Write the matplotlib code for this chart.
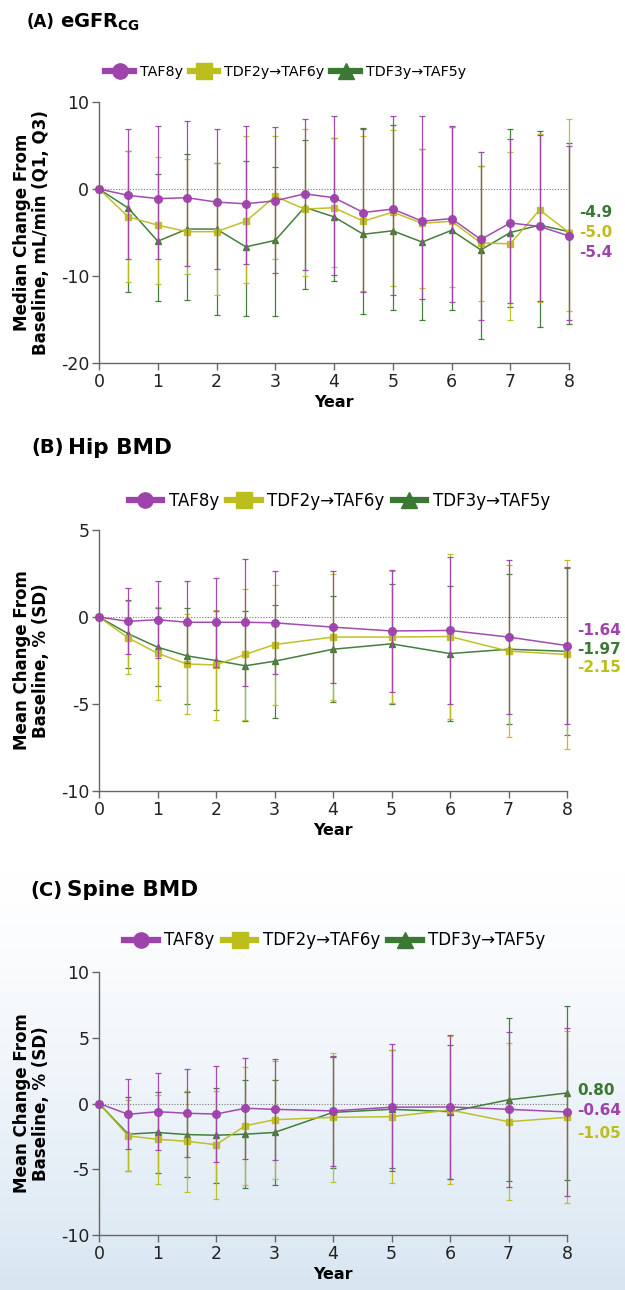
import matplotlib
matplotlib.use("Agg")
import matplotlib.pyplot as plt
from matplotlib.lines import Line2D
import numpy as np

plt.rcParams['font.family'] = ['DejaVu Sans']
plt.rcParams['axes.unicode_minus'] = False

# ---- data ----
groups = ["TAF8y", "TDF2y\u2192TAF6y", "TDF3y\u2192TAF5y"]

# (A) eGFR CG, median with Q1/Q3
years_a = [0, 0.5, 1, 1.5, 2, 2.5, 3, 3.5, 4, 4.5, 5, 5.5, 6, 6.5, 7, 7.5, 8]
egfr_taf8 = [0, -0.73, -1.1, -1.0, -1.5, -1.7, -1.35, -0.55, -1.0, -2.7, -2.3, -3.7, -3.4, -5.8, -3.9, -4.3, -5.4]
egfr_taf8_q1 = [0, -8.0, -8.0, -8.85, -9.15, -8.65, -9.7, -9.35, -9.9, -11.8, -12.2, -12.6, -13.0, -15.0, -13.1, -12.9, -15.1]
egfr_taf8_q3 = [0, 6.9, 7.3, 7.8, 6.9, 7.2, 7.1, 8.0, 8.35, 6.9, 8.35, 8.35, 7.2, 4.2, 5.8, 6.2, 5.0]
egfr_tdf2 = [0, -3.2, -4.15, -4.9, -4.9, -3.7, -0.85, -2.3, -2.15, -3.7, -2.65, -3.95, -3.7, -6.2, -6.3, -2.4, -5.0]
egfr_tdf2_q1 = [0, -10.7, -10.9, -9.8, -12.2, -10.8, -8.0, -10.0, -9.0, -11.7, -11.1, -11.4, -11.3, -12.9, -15.0, -13.0, -14.0]
egfr_tdf2_q3 = [0, 4.4, 3.65, 3.5, 3.0, 6.1, 6.1, 6.9, 5.9, 6.1, 6.8, 4.6, 7.1, 2.65, 4.3, 6.3, 8.1]
egfr_tdf3 = [0, -2.2, -6.0, -4.6, -4.6, -6.65, -5.9, -2.1, -3.2, -5.2, -4.8, -6.1, -4.75, -7.0, -5.0, -4.15, -4.9]
egfr_tdf3_q1 = [0, -11.8, -12.9, -12.7, -14.5, -14.65, -14.65, -11.45, -10.6, -14.4, -13.9, -15.1, -13.85, -17.2, -13.6, -15.9, -15.5]
egfr_tdf3_q3 = [0, 4.4, 1.7, 4.0, 2.95, 3.2, 2.5, 5.6, 5.9, 7.0, 7.4, 4.6, 7.1, 2.6, 6.9, 6.7, 5.3]
egfr_end = ["-4.9", "-5.0", "-5.4"]

# (B) hip BMD and (C) spine BMD, mean with SD
years_b = [0, 0.5, 1, 1.5, 2, 2.5, 3, 4, 5, 6, 7, 8]
hip_taf8 = [0, -0.25, -0.15, -0.3, -0.3, -0.3, -0.33, -0.58, -0.8, -0.77, -1.15, -1.64]
hip_taf8_sd = [0, 1.9, 2.2, 2.35, 2.55, 3.65, 2.95, 3.2, 3.5, 4.2, 4.45, 4.5]
hip_tdf2 = [0, -1.2, -2.08, -2.7, -2.75, -2.15, -1.58, -1.15, -1.15, -1.12, -1.96, -2.15]
hip_tdf2_sd = [0, 2.1, 2.67, 2.9, 3.15, 3.75, 3.45, 3.6, 3.8, 4.75, 4.95, 5.45]
hip_tdf3 = [0, -0.96, -1.73, -2.23, -2.5, -2.8, -2.54, -1.85, -1.54, -2.1, -1.85, -1.97]
hip_tdf3_sd = [0, 1.95, 2.25, 2.75, 2.85, 3.15, 3.25, 3.05, 3.45, 3.9, 4.3, 4.8]
hip_end = ["-1.64", "-1.97", "-2.15"]

spine_taf8 = [0, -0.82, -0.62, -0.74, -0.8, -0.36, -0.44, -0.56, -0.28, -0.26, -0.44, -0.64]
spine_taf8_sd = [0, 2.67, 2.95, 3.33, 3.67, 3.85, 3.85, 4.2, 4.84, 5.46, 5.9, 6.38]
spine_tdf2 = [0, -2.46, -2.72, -2.87, -3.13, -1.69, -1.23, -1.05, -1.0, -0.49, -1.38, -1.05]
spine_tdf2_sd = [0, 2.7, 3.4, 3.85, 4.1, 4.5, 4.5, 4.9, 5.05, 5.64, 5.95, 6.55]
spine_tdf3 = [0, -2.33, -2.2, -2.36, -2.41, -2.33, -2.2, -0.67, -0.44, -0.62, 0.28, 0.8]
spine_tdf3_sd = [0, 2.8, 3.05, 3.2, 3.6, 4.1, 4.0, 4.2, 4.5, 5.1, 6.2, 6.6]
spine_end = ["0.80", "-0.64", "-1.05"]

# ---- style ----
purple = "#9E42AC"
yellow = "#BCBE1E"
green = "#3B7834"
colors = [purple, yellow, green]
markers = ["o", "s", "^"]
msizes = [5.5, 4.5, 4.5]

fig = plt.figure(figsize=(6.25, 12.9), dpi=100)

# soft blue background fading in towards the bottom
bg = fig.add_axes([0, 0, 1, 0.33], zorder=-10)
grad = np.linspace(0, 1, 200).reshape(-1, 1)
rgb = np.ones((200, 1, 4))
rgb[..., 0] = 0.85
rgb[..., 1] = 0.905
rgb[..., 2] = 0.95
rgb[..., 3] = grad ** 1.3
bg.imshow(rgb, aspect="auto", extent=[0, 1, 0, 1], origin="upper")
bg.axis("off")


def style_axes(ax, ylim, yticks):
    ax.set_xlim(0, 8)
    ax.set_ylim(*ylim)
    ax.set_xticks(range(9))
    ax.set_yticks(yticks)
    for s in ["top", "right"]:
        ax.spines[s].set_visible(False)
    for s in ["left", "bottom"]:
        ax.spines[s].set_color("#666666")
        ax.spines[s].set_linewidth(1.0)
    ax.tick_params(colors="#666666", labelcolor="#222222", labelsize=12.5,
                   length=5, width=1.0, pad=2)
    ax.axhline(0, color="#777777", ls=(0, (1, 1.5)), lw=0.8, zorder=1)
    ax.set_xlabel("Year", fontsize=11.5, fontweight="bold", labelpad=3)
    ax.set_facecolor("none")


def draw_series(ax, x, series, lows, highs):
    # green first, purple last (on top)
    for i in [2, 1, 0]:
        y = np.array(series[i])
        err = [y - np.array(lows[i]), np.array(highs[i]) - y]
        ax.errorbar(x, y, yerr=err, color=colors[i], lw=1.1, elinewidth=0.9,
                    capsize=2.5, capthick=0.9, marker=markers[i], ms=msizes[i],
                    clip_on=False, zorder=3 + (2 - i), alpha=0.95)


def add_legend(ax, y, fs, cx):
    handles = [Line2D([], [], color=c, lw=4.5, marker=m, ms=11)
               for c, m in zip(colors, markers)]
    fig.legend(handles, groups, loc="center", bbox_to_anchor=(cx, y), ncol=3,
               frameon=False, fontsize=fs, handlelength=2.0, handletextpad=0.4,
               columnspacing=0.5)


def end_labels(ax, texts, ys, order):
    for t, yy, i in zip(texts, ys, order):
        ax.text(8.17, yy, t, color=colors[i], fontsize=11, fontweight="bold",
                va="center", ha="left", clip_on=False)


def set_ylabel(ax, text):
    ax.set_ylabel(text, fontsize=12, fontweight="bold", linespacing=1.05)
    ax.yaxis.set_label_coords(-0.105, 0.5)


# (A)
axA = fig.add_axes([0.1584, 0.7186, 0.752, 0.2023])
style_axes(axA, (-20, 10), [-20, -10, 0, 10])
draw_series(axA, years_a, [egfr_taf8, egfr_tdf2, egfr_tdf3],
            [egfr_taf8_q1, egfr_tdf2_q1, egfr_tdf3_q1],
            [egfr_taf8_q3, egfr_tdf2_q3, egfr_tdf3_q3])
set_ylabel(axA, "Median Change From\nBaseline, mL/min (Q1, Q3)")
end_labels(axA, egfr_end, [-2.75, -5.05, -7.35], [2, 1, 0])
add_legend(axA, 0.944, 10.3, 0.457)
fig.text(0.042, 0.983, "(A)", fontsize=12, fontweight="bold", va="center")
fig.text(0.096, 0.983, r"eGFR$_{\mathbf{CG}}$", fontsize=14, fontweight="bold", va="center")

# (B)
axB = fig.add_axes([0.1584, 0.3868, 0.7488, 0.2023])
style_axes(axB, (-10, 5), [-10, -5, 0, 5])
draw_series(axB, years_b, [hip_taf8, hip_tdf2, hip_tdf3],
            [np.subtract(hip_taf8, hip_taf8_sd), np.subtract(hip_tdf2, hip_tdf2_sd),
             np.subtract(hip_tdf3, hip_tdf3_sd)],
            [np.add(hip_taf8, hip_taf8_sd), np.add(hip_tdf2, hip_tdf2_sd),
             np.add(hip_tdf3, hip_tdf3_sd)])
set_ylabel(axB, "Mean Change From\nBaseline, % (SD)")
end_labels(axB, hip_end, [-0.8, -1.85, -2.92], [0, 2, 1])
add_legend(axB, 0.612, 12, 0.543)
fig.text(0.05, 0.653, "(B)", fontsize=14, fontweight="bold", va="center")
fig.text(0.108, 0.653, "Hip BMD", fontsize=15.5, fontweight="bold", va="center")

# (C)
axC = fig.add_axes([0.1584, 0.0426, 0.7488, 0.2039])
style_axes(axC, (-10, 10), [-10, -5, 0, 5, 10])
draw_series(axC, years_b, [spine_taf8, spine_tdf2, spine_tdf3],
            [np.subtract(spine_taf8, spine_taf8_sd), np.subtract(spine_tdf2, spine_tdf2_sd),
             np.subtract(spine_tdf3, spine_tdf3_sd)],
            [np.add(spine_taf8, spine_taf8_sd), np.add(spine_tdf2, spine_tdf2_sd),
             np.add(spine_tdf3, spine_tdf3_sd)])
set_ylabel(axC, "Mean Change From\nBaseline, % (SD)")
end_labels(axC, spine_end, [1.0, -0.53, -2.28], [2, 0, 1])
add_legend(axC, 0.271, 12, 0.536)
fig.text(0.048, 0.310, "(C)", fontsize=14, fontweight="bold", va="center")
fig.text(0.107, 0.310, "Spine BMD", fontsize=15.5, fontweight="bold", va="center")

fig.savefig("out.png", dpi=100)
